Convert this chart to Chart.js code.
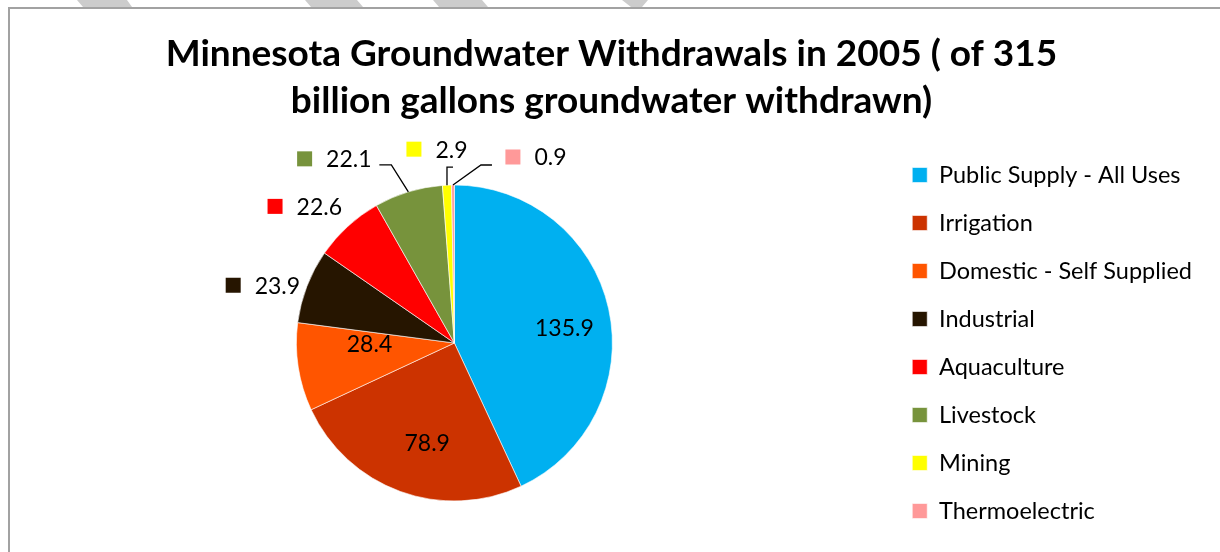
<!DOCTYPE html>
<html>
<head>
<meta charset="utf-8">
<title>Minnesota Groundwater Withdrawals in 2005</title>
<script src="https://cdn.jsdelivr.net/npm/chart.js@4.4.1/dist/chart.umd.min.js"></script>
<style>
  html, body { margin: 0; padding: 0; background: #fff; }
  #wrap { position: relative; width: 1220px; height: 552px; }
</style>
</head>
<body>
<div id="wrap"><canvas id="withdrawals"></canvas></div>
<script>
// groundwater withdrawals by use, billion gallons
const uses = ['Public Supply - All Uses', 'Irrigation', 'Domestic - Self Supplied', 'Industrial',
  'Aquaculture', 'Livestock', 'Mining', 'Thermoelectric'];
const gallons = [135.9, 78.9, 28.4, 23.9, 22.6, 22.1, 2.9, 0.9];
const titleLines = ['Minnesota Groundwater Withdrawals in 2005 ( of 315', 'billion gallons groundwater withdrawn)'];

const sliceColors = ['#00B0F0', '#CC3300', '#FF5500', '#261500', '#FF0000', '#77933C', '#FFFF00', '#FF9999'];

// value label placement: inside = fraction of radius along the slice middle,
// off = shift of the label block from the rim point, leader = elbow + end of the line
const labelSpots = [
  { inside: 0.7, nudge: [2, 10] },
  { inside: 0.65, nudge: [8, 4] },
  { inside: 0.55, nudge: [1, -12] },
  { off: [-44, -1] },
  { off: [-43, -20] },
  { off: [-74, -33], leader: [[-17, -27], [-29, -27]] },
  { off: [-10, -36], leader: [[0, -18], [6, -18]] },
  { off: [83, -28], leader: [[28, -20], [39, -20]] }
];

const labelFont = '23px Lato';

// page backdrop: grey stripes peeking over the frame, then the frame itself
const backdrop = {
  id: 'backdrop',
  beforeDraw(chart) {
    const ctx = chart.ctx;
    ctx.save();
    ctx.fillStyle = '#fff';
    ctx.fillRect(0, 0, chart.width, chart.height);
    ctx.fillStyle = '#cccccc';
    const stripes = [
      [[77, 0], [127, 0], [132, 7], [83, 7]],
      [[305, 0], [357, 0], [363, 7], [311, 7]],
      [[433, 0], [482, 0], [488, 7], [439, 7]],
      [[622, 0], [648, 0], [642, 7], [631, 7]]
    ];
    stripes.forEach(p => {
      ctx.beginPath();
      ctx.moveTo(p[0][0], p[0][1]);
      p.slice(1).forEach(q => ctx.lineTo(q[0], q[1]));
      ctx.closePath();
      ctx.fill();
    });
    ctx.strokeStyle = '#a2a2a2';
    ctx.lineWidth = 2;
    ctx.beginPath();
    ctx.moveTo(9, chart.height);
    ctx.lineTo(9, 8);
    ctx.lineTo(chart.width, 8);
    ctx.stroke();
    ctx.restore();
  }
};

const valueLabels = {
  id: 'valueLabels',
  afterDatasetsDraw(chart) {
    const ctx = chart.ctx;
    const arcs = chart.getDatasetMeta(0).data;
    ctx.save();
    ctx.font = labelFont;
    ctx.textBaseline = 'middle';
    ctx.fillStyle = '#000';
    arcs.forEach((arc, i) => {
      const spot = labelSpots[i];
      const mid = (arc.startAngle + arc.endAngle) / 2;
      const text = gallons[i].toFixed(1);
      if (spot.inside) {
        const r = arc.outerRadius * spot.inside;
        ctx.textAlign = 'center';
        ctx.fillStyle = '#000';
        ctx.fillText(text, arc.x + Math.cos(mid) * r + spot.nudge[0], arc.y + Math.sin(mid) * r + spot.nudge[1]);
        return;
      }
      const rimX = arc.x + Math.cos(mid) * arc.outerRadius;
      const rimY = arc.y + Math.sin(mid) * arc.outerRadius;
      if (spot.leader) {
        ctx.strokeStyle = '#000';
        ctx.lineWidth = 1.3;
        ctx.beginPath();
        ctx.moveTo(rimX, rimY);
        spot.leader.forEach(p => ctx.lineTo(rimX + p[0], rimY + p[1]));
        ctx.stroke();
      }
      const key = 15, gap = 14;
      const w = key + gap + ctx.measureText(text).width;
      const cx = rimX + spot.off[0], cy = rimY + spot.off[1];
      const left = cx - w / 2;
      ctx.fillStyle = sliceColors[i];
      ctx.fillRect(left, cy - key / 2, key, key);
      ctx.fillStyle = '#000';
      ctx.textAlign = 'left';
      ctx.fillText(text, left + key + gap, cy + 1);
    });
    ctx.restore();
  }
};

new Chart(document.getElementById('withdrawals'), {
  type: 'pie',
  data: {
    labels: uses,
    datasets: [{
      data: gallons,
      backgroundColor: sliceColors,
      borderColor: '#ffffff',
      borderWidth: 0.6,
      radius: 158
    }]
  },
  options: {
    responsive: true,
    maintainAspectRatio: false,
    animation: false,
    layout: { padding: { left: 21, right: 18, top: 0, bottom: 0 } },
    plugins: {
      title: {
        display: true,
        text: titleLines,
        color: '#000',
        font: { family: 'Lato', size: 37, weight: 'bold', lineHeight: 1.27 },
        padding: { top: 31, bottom: 9 }
      },
      legend: {
        position: 'right',
        fullSize: false,
        labels: {
          color: '#000',
          font: { family: 'Lato', size: 23.5 },
          boxWidth: 15,
          boxHeight: 15,
          padding: 24.5
        }
      },
      tooltip: { enabled: false }
    }
  },
  plugins: [backdrop, valueLabels]
});
</script>
</body>
</html>
